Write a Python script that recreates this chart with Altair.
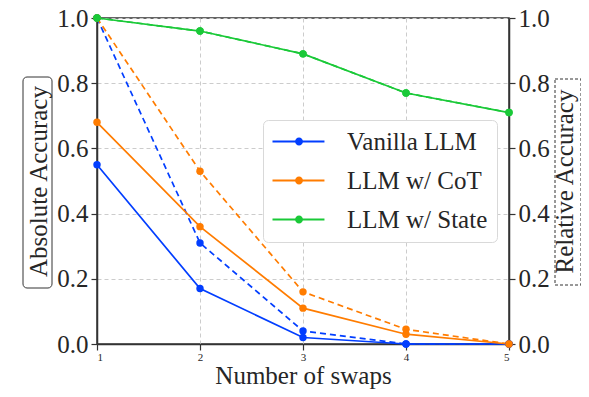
import altair as alt
import pandas as pd

swaps = [1, 2, 3, 4, 5]
models = ["Vanilla LLM", "LLM w/ CoT", "LLM w/ State"]
colors = ["#023eff", "#ff7c00", "#1ac938"]

vanilla_abs = [0.55, 0.17, 0.02, 0.0, 0.0]
vanilla_rel = [1.0, 0.31, 0.04, 0.0, 0.0]
cot_abs = [0.68, 0.36, 0.11, 0.03, 0.0]
cot_rel = [1.0, 0.53, 0.16, 0.045, 0.0]
state_abs = [1.0, 0.96, 0.89, 0.77, 0.71]
state_rel = [1.0, 0.96, 0.89, 0.77, 0.71]

rows = []
for m, a, r in zip(models, [vanilla_abs, cot_abs, state_abs], [vanilla_rel, cot_rel, state_rel]):
    for s, va, vr in zip(swaps, a, r):
        rows.append({"swaps": s, "value": va, "model": m, "kind": "abs"})
        rows.append({"swaps": s, "value": vr, "model": m, "kind": "rel"})
df = pd.DataFrame(rows)
abs_df = df[df.kind == "abs"]
rel_df = df[df.kind == "rel"]

FONT = "Liberation Serif, Times New Roman, DejaVu Serif, serif"
TXT = "#262626"
FS = 25
color_scale = alt.Scale(domain=models, range=colors)
y_scale = alt.Scale(domain=[0, 1], nice=False, zero=True)

# legend glyph: line with a dot, in units of sqrt(symbolSize)/2 = 12px
legend_symbol = (
    "M -1 -0.08 L 3.33 -0.08 L 3.33 0.08 L -1 0.08 Z "
    "M 1.54 0 A 0.33 0.33 0 1 1 0.88 0 A 0.33 0.33 0 1 1 1.54 0 Z"
)
legend = alt.Legend(
    title=None, orient="none", legendX=166, legendY=102,
    symbolType=legend_symbol, symbolSize=576, labelFont=FONT,
    labelFontSize=FS, labelColor=TXT, padding=9, rowPadding=13,
    labelOffset=50, strokeColor="#d9d9d9", cornerRadius=5,
    fillColor="white", symbolOpacity=1, symbolStrokeWidth=0,
)
color_enc = alt.Color("model:N", scale=color_scale, sort=models, legend=legend)

x_enc = alt.X(
    "swaps:Q",
    scale=alt.Scale(domain=[1, 5], nice=False),
    axis=alt.Axis(
        values=swaps, format="d", title="Number of swaps", labelFontSize=11,
        titleFontSize=FS, titleFont=FONT, labelFont=FONT, grid=True,
        gridDash=[4, 3], gridColor="#cccccc", titlePadding=1.5, labelPadding=1,
        titleFontWeight="normal", labelColor=TXT, titleColor=TXT,
    ),
)

left_axis = alt.Axis(
    values=[0, 0.2, 0.4, 0.6, 0.8, 1.0], format=".1f", title="Absolute Accuracy",
    labelFontSize=FS, titleFontSize=FS, labelFont=FONT, titleFont=FONT,
    grid=True, gridDash=[4, 3], gridColor="#cccccc", titleFontWeight="normal",
    labelColor=TXT, titleColor=TXT, titlePadding=5,
)
right_axis = alt.Axis(
    values=[0, 0.2, 0.4, 0.6, 0.8, 1.0], format=".1f", title="Relative Accuracy",
    orient="right", labelFontSize=FS, titleFontSize=FS, labelFont=FONT,
    titleFont=FONT, grid=False, titleFontWeight="normal", titleAngle=270,
    titleBaseline="top", labelColor=TXT, titleColor=TXT, titlePadding=3,
)

abs_line = alt.Chart(abs_df).mark_line(strokeWidth=1.7).encode(
    x=x_enc,
    y=alt.Y("value:Q", scale=y_scale, axis=left_axis),
    color=color_enc,
)
abs_pts = alt.Chart(abs_df).mark_point(filled=True, size=55, opacity=1).encode(
    x="swaps:Q",
    y=alt.Y("value:Q", scale=y_scale, axis=None),
    color=color_enc,
)
rel_line = alt.Chart(rel_df).mark_line(strokeWidth=1.7, strokeDash=[6, 4]).encode(
    x="swaps:Q",
    y=alt.Y("value:Q", scale=y_scale, axis=right_axis),
    color=color_enc,
)
rel_pts = alt.Chart(rel_df).mark_point(filled=True, size=55, opacity=1).encode(
    x="swaps:Q",
    y=alt.Y("value:Q", scale=y_scale, axis=None),
    color=color_enc,
)

one = pd.DataFrame({"k": [0]})
left_box = alt.Chart(one).mark_rect(
    fill="transparent", stroke="#333333", strokeWidth=1, cornerRadius=4
).encode(x=alt.value(-74), x2=alt.value(-45), y=alt.value(59), y2=alt.value(270))
right_box = alt.Chart(one).mark_rect(
    fill="transparent", stroke="#333333", strokeWidth=1, strokeDash=[3, 2]
).encode(x=alt.value(458), x2=alt.value(484), y=alt.value(61), y2=alt.value(267))

chart = (
    alt.layer(rel_line, abs_line, rel_pts, abs_pts, left_box, right_box)
    .resolve_scale(y="independent", color="shared")
    .properties(
        width=412, height=326,
        autosize=alt.AutoSizeParams(type="none"),
        padding={"left": 89, "top": 10, "right": 72, "bottom": 45},
    )
    .configure_view(stroke="#333333", strokeWidth=1.5)
    .configure_axis(
        domainColor="#333333", domainWidth=1.5, tickColor="#333333",
        tickWidth=1.2, tickSize=6, labelPadding=3,
    )
)

chart.save("out.html", embed_options={"renderer": "svg", "actions": False})
